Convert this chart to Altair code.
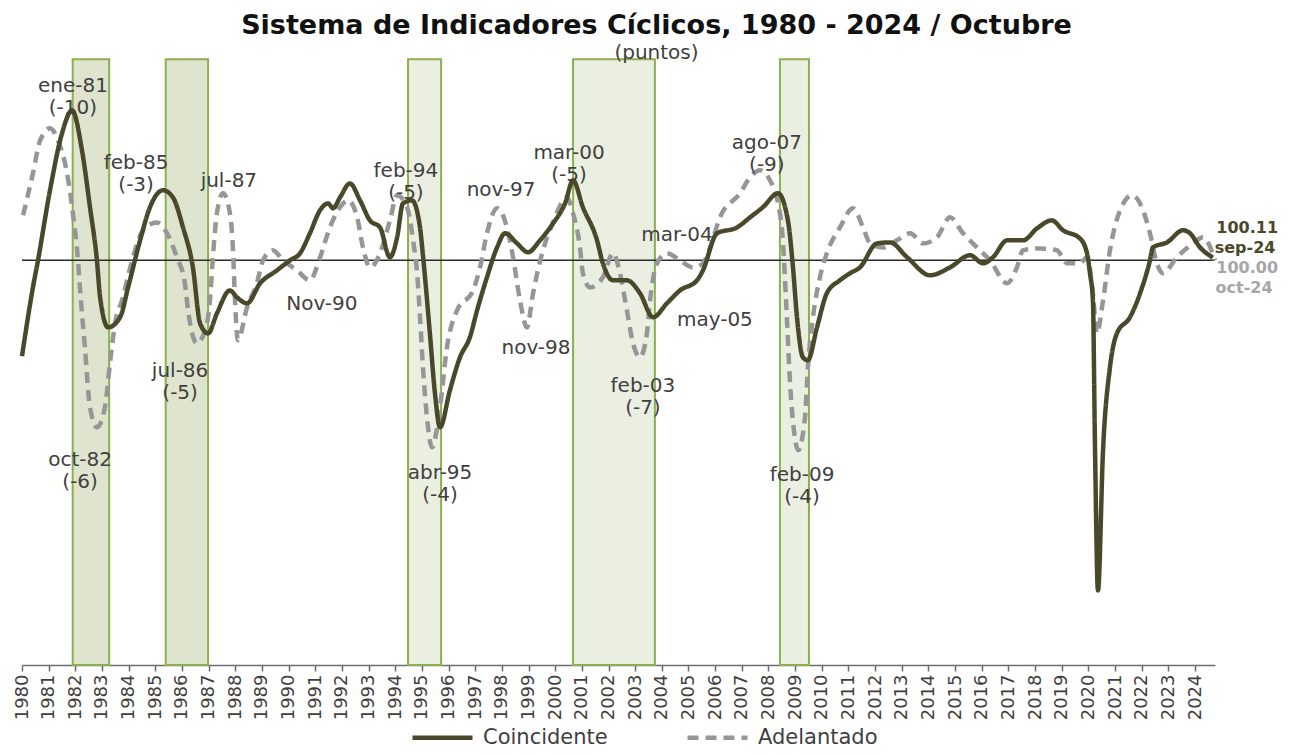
import altair as alt
import pandas as pd

# ---------------- data ----------------
coin_t = [1980.00, 1980.41, 1980.60, 1981.05, 1981.50, 1981.88, 1982.25, 1982.55, 1982.81, 1982.93,
          1983.23, 1983.68, 1983.98, 1984.43, 1984.80, 1985.29, 1985.66, 1986.04, 1986.41, 1986.68,
          1986.98, 1987.31, 1987.80, 1988.06, 1988.44, 1988.93, 1989.56, 1990.05, 1990.43, 1990.80,
          1991.18, 1991.48, 1991.67, 1991.93, 1992.30, 1992.68, 1993.05, 1993.43, 1993.80, 1994.07,
          1994.29, 1994.63, 1994.93, 1995.04, 1995.30, 1995.49, 1995.68, 1996.05, 1996.43, 1996.80,
          1997.07, 1997.44, 1997.82, 1998.12, 1998.57, 1998.98, 1999.43, 1999.92, 2000.37, 2000.67,
          2001.04, 2001.57, 2001.79, 2002.17, 2002.69, 2003.18, 2003.67, 2004.19, 2004.68, 2005.32,
          2005.54, 2006.07, 2006.82, 2007.31, 2007.79, 2008.36, 2008.73, 2008.92, 2009.07, 2009.29,
          2009.48, 2009.82, 2010.19, 2010.68, 2011.06, 2011.43, 2012.07, 2012.56, 2013.20, 2014.06,
          2014.81, 2015.56, 2016.05, 2016.42, 2016.95, 2017.55, 2018.07, 2018.63, 2019.05, 2019.68,
          2019.95, 2020.06, 2020.17, 2020.25, 2020.36, 2020.55, 2020.81, 2021.07, 2021.56, 2021.94,
          2022.31, 2022.42, 2022.95, 2023.55, 2023.81, 2024.19, 2024.67]
coin_v = [96.21, 98.93, 100.00, 102.77, 105.02, 105.93, 104.35, 102.10, 100.00, 98.54,
          97.35, 97.75, 98.93, 100.79, 102.10, 102.77, 102.49, 101.30, 99.72, 97.51,
          97.11, 97.90, 98.81, 98.54, 98.30, 99.09, 99.60, 100.00, 100.28, 101.07,
          101.98, 102.25, 102.06, 102.49, 103.04, 102.37, 101.58, 101.30, 100.12, 100.91,
          102.25, 102.37, 101.30, 100.20, 97.11, 94.74, 93.40, 94.86, 96.17, 96.96,
          98.02, 99.33, 100.51, 101.07, 100.67, 100.32, 100.79, 101.46, 102.25, 103.16,
          102.10, 100.79, 99.88, 99.21, 99.21, 98.70, 97.75, 98.30, 98.81, 99.21,
          99.60, 101.07, 101.30, 101.70, 102.10, 102.65, 101.58, 99.72, 97.75, 96.17,
          96.05, 97.35, 98.70, 99.21, 99.49, 99.72, 100.67, 100.71, 100.12, 99.41,
          99.72, 100.20, 99.88, 100.12, 100.79, 100.79, 101.26, 101.58, 101.19, 100.87,
          100.28, 99.49, 98.42, 92.49, 86.95, 92.49, 95.77, 97.11, 97.75, 98.70,
          100.00, 100.51, 100.71, 101.19, 101.07, 100.51, 100.11]

lead_t = [1980.04, 1980.41, 1980.68, 1981.05, 1981.35, 1981.69, 1981.91, 1982.10, 1982.18, 1982.36,
          1982.55, 1982.81, 1983.11, 1983.30, 1983.49, 1983.79, 1983.94, 1984.24, 1984.54, 1985.06,
          1985.44, 1985.81, 1986.11, 1986.23, 1986.56, 1986.94, 1987.05, 1987.16, 1987.31, 1987.54,
          1987.80, 1987.91, 1987.99, 1988.10, 1988.44, 1988.81, 1989.04, 1989.41, 1989.79, 1990.32,
          1990.80, 1991.18, 1991.55, 1991.93, 1992.23, 1992.57, 1992.79, 1993.05, 1993.43, 1993.80,
          1994.07, 1994.44, 1994.67, 1994.82, 1994.93, 1995.04, 1995.19, 1995.38, 1995.68, 1995.94,
          1996.32, 1996.92, 1997.18, 1997.44, 1997.82, 1998.19, 1998.42, 1998.68, 1998.94, 1999.17,
          1999.51, 1999.92, 2000.44, 2000.67, 2000.93, 2001.04, 2001.31, 2001.79, 2002.17, 2002.43,
          2002.69, 2002.92, 2003.18, 2003.44, 2003.56, 2003.82, 2004.19, 2004.68, 2005.17, 2005.54,
          2005.81, 2006.18, 2006.93, 2007.31, 2007.68, 2008.06, 2008.36, 2008.54, 2008.69, 2008.81,
          2008.99, 2009.11, 2009.37, 2009.48, 2009.67, 2009.93, 2010.19, 2010.68, 2011.17, 2011.55,
          2011.81, 2012.30, 2012.82, 2013.31, 2013.80, 2014.32, 2014.81, 2015.30, 2015.82, 2016.31,
          2016.95, 2017.32, 2017.55, 2018.19, 2018.82, 2019.20, 2019.68, 2019.95, 2020.17, 2020.32,
          2020.55, 2020.81, 2021.19, 2021.64, 2022.05, 2022.31, 2022.57, 2022.80, 2023.32, 2023.92,
          2024.30, 2024.75]
lead_v = [101.78, 103.44, 104.74, 105.22, 104.74, 103.44, 101.86, 100.00, 98.81, 96.56,
          94.19, 93.40, 94.19, 95.93, 97.51, 98.54, 99.21, 100.40, 101.19, 101.50,
          101.07, 100.12, 99.09, 98.02, 96.72, 97.51, 98.42, 100.12, 101.86, 102.65,
          101.86, 100.51, 98.42, 96.84, 98.14, 99.09, 100.00, 100.40, 100.00, 99.60,
          99.21, 100.12, 101.30, 102.10, 102.37, 101.70, 100.51, 99.72, 100.28, 101.58,
          102.57, 102.10, 100.79, 99.49, 97.75, 95.77, 93.79, 92.61, 94.19, 96.56,
          98.02, 98.81, 99.72, 101.07, 102.06, 101.30, 100.12, 98.42, 97.35, 98.70,
          100.28, 101.50, 102.49, 101.86, 100.51, 99.49, 98.93, 99.33, 100.28, 99.49,
          98.02, 96.72, 96.17, 97.11, 98.42, 99.88, 100.28, 100.00, 99.72, 99.88,
          100.51, 101.70, 102.65, 103.28, 103.56, 103.16, 102.25, 100.79, 97.75, 95.14,
          93.00, 92.49, 93.79, 95.77, 97.75, 99.33, 100.28, 101.30, 102.06, 101.30,
          100.67, 100.51, 100.79, 101.07, 100.67, 100.91, 101.70, 101.07, 100.51, 100.00,
          99.09, 99.72, 100.40, 100.47, 100.40, 99.88, 99.88, 100.12, 98.70, 97.11,
          98.42, 100.40, 101.98, 102.57, 101.98, 101.07, 99.88, 99.49, 100.12, 100.67,
          100.91, 100.00]

series_names = ["Coincidente", "Adelantado"]

# recession periods (shaded)
box_start = [1981.90, 1985.39, 1994.48, 2000.67, 2008.43]
box_end = [1983.27, 1986.98, 1995.72, 2003.74, 2009.52]
box_fill = ["#dfe4cf", "#dfe4cf", "#ebefe2", "#ebefe2", "#ebefe2"]

# turning point annotations
ann_label = ["ene-81\n(-10)", "feb-85\n(-3)", "jul-87", "oct-82\n(-6)", "jul-86\n(-5)", "Nov-90",
             "feb-94\n(-5)", "abr-95\n(-4)", "nov-97", "nov-98", "mar-00\n(-5)", "mar-04",
             "feb-03\n(-7)", "may-05", "ago-07\n(-9)", "feb-09\n(-4)"]
ann_t = [1981.91, 1984.28, 1987.76, 1982.18, 1985.93, 1991.25, 1994.40, 1995.68, 1997.97,
         1999.28, 2000.52, 2004.57, 2003.29, 2005.99, 2007.94, 2009.26]
ann_v = [106.88, 103.83, 103.12, 92.09, 95.61, 98.26, 103.52, 91.58, 102.77,
         96.52, 104.23, 100.99, 95.02, 97.63, 104.62, 91.50]

# last-value labels
end_label = ["100.11", "sep-24", "100.00", "oct-24"]
end_t = [2024.80, 2024.74, 2024.80, 2024.77]
end_v = [101.26, 100.47, 99.68, 98.89]
end_color = ["#4a482a", "#4a482a", "#a6a6a6", "#a6a6a6"]

years = list(range(1980, 2025))

# ---------------- chart ----------------
COIN = "#4a482a"
LEAD = "#969696"
FONT = "DejaVu Sans"
Y_MIN, Y_MAX = 84.0, 108.0

lines_df = pd.concat([
    pd.DataFrame({"t": lead_t, "v": lead_v, "serie": series_names[1]}),
    pd.DataFrame({"t": coin_t, "v": coin_v, "serie": series_names[0]}),
])
boxes_df = pd.DataFrame({"t0": box_start, "t1": box_end, "fill": box_fill,
                         "top": [Y_MAX - 0.05] * len(box_start), "bot": [Y_MIN] * len(box_start)})
ann_df = pd.DataFrame({"t": ann_t, "v": ann_v, "label": ann_label})
end_df = pd.DataFrame({"t": end_t, "v": end_v, "label": end_label, "col": end_color})
ref_df = pd.DataFrame({"v": [100]})

xscale = alt.Scale(domain=[1980, 2024.75], nice=False, zero=False)
yscale = alt.Scale(domain=[Y_MIN, Y_MAX], nice=False, zero=False)
xaxis = alt.Axis(values=years, format="d", labelAngle=270, labelFont=FONT, labelFontSize=18,
                 labelColor="#404040", domainColor="#6e6e6e", domainWidth=1.5, tickColor="#6e6e6e",
                 tickWidth=1.5, tickSize=6, grid=False, title=None, labelPadding=3,
                 labelOverlap=False, labelFlush=False)

boxes = alt.Chart(boxes_df).mark_rect(stroke="#8cb04f", strokeWidth=2).encode(
    x=alt.X("t0:Q", scale=xscale, axis=xaxis),
    x2="t1:Q",
    y=alt.Y("top:Q", scale=yscale, axis=None),
    y2="bot:Q",
    fill=alt.Fill("fill:N", scale=None),
)

ref = alt.Chart(ref_df).mark_rule(color="#2b2b2b", strokeWidth=1.5).encode(
    y=alt.Y("v:Q", scale=yscale, axis=None)
)

lines = alt.Chart(lines_df).mark_line(strokeWidth=4.5, interpolate="monotone").encode(
    x=alt.X("t:Q", scale=xscale, axis=xaxis),
    y=alt.Y("v:Q", scale=yscale, axis=None),
    color=alt.Color("serie:N", scale=alt.Scale(domain=series_names, range=[COIN, LEAD]),
                    legend=alt.Legend(title=None, orient="none", direction="horizontal",
                                      legendX=388, legendY=647, symbolType="stroke",
                                      symbolSize=3600, symbolStrokeWidth=4.5,
                                      labelFont=FONT, labelFontSize=21, labelColor="#404040",
                                      labelOffset=8, columnPadding=70, padding=0)),
    strokeDash=alt.StrokeDash("serie:N", scale=alt.Scale(domain=series_names, range=[[1, 0], [11, 7]]),
                              legend=None),
    order=alt.Order("t:Q"),
)

ann = alt.Chart(ann_df).mark_text(font=FONT, fontSize=20, color="#404040", lineBreak="\n",
                                  lineHeight=22, align="center", baseline="middle").encode(
    x=alt.X("t:Q", scale=xscale, axis=xaxis),
    y=alt.Y("v:Q", scale=yscale, axis=None),
    text="label:N",
)

ends = alt.Chart(end_df).mark_text(font=FONT, fontSize=16, fontWeight="bold", align="left",
                                   baseline="middle").encode(
    x=alt.X("t:Q", scale=xscale, axis=xaxis),
    y=alt.Y("v:Q", scale=yscale, axis=None),
    text="label:N",
    color=alt.Color("col:N", scale=None),
)

chart = alt.layer(boxes, ref, lines, ann, ends).properties(
    width=1193,
    height=607,
    background="white",
    autosize=alt.AutoSizeParams(type="none"),
    padding={"left": 14, "top": 50, "right": 72, "bottom": 83},
    title=alt.TitleParams(
        text="Sistema de Indicadores Cíclicos, 1980 - 2024 / Octubre",
        subtitle="(puntos)",
        font=FONT, fontSize=27, fontWeight="bold", color="#111111",
        subtitleFont=FONT, subtitleFontSize=20, subtitleColor="#404040",
        anchor="middle", frame="group", dx=38, offset=-6, subtitlePadding=3,
    ),
).configure_view(strokeWidth=0, stroke="transparent")

chart.save("out.html", embed_options={"renderer": "svg", "actions": False})
